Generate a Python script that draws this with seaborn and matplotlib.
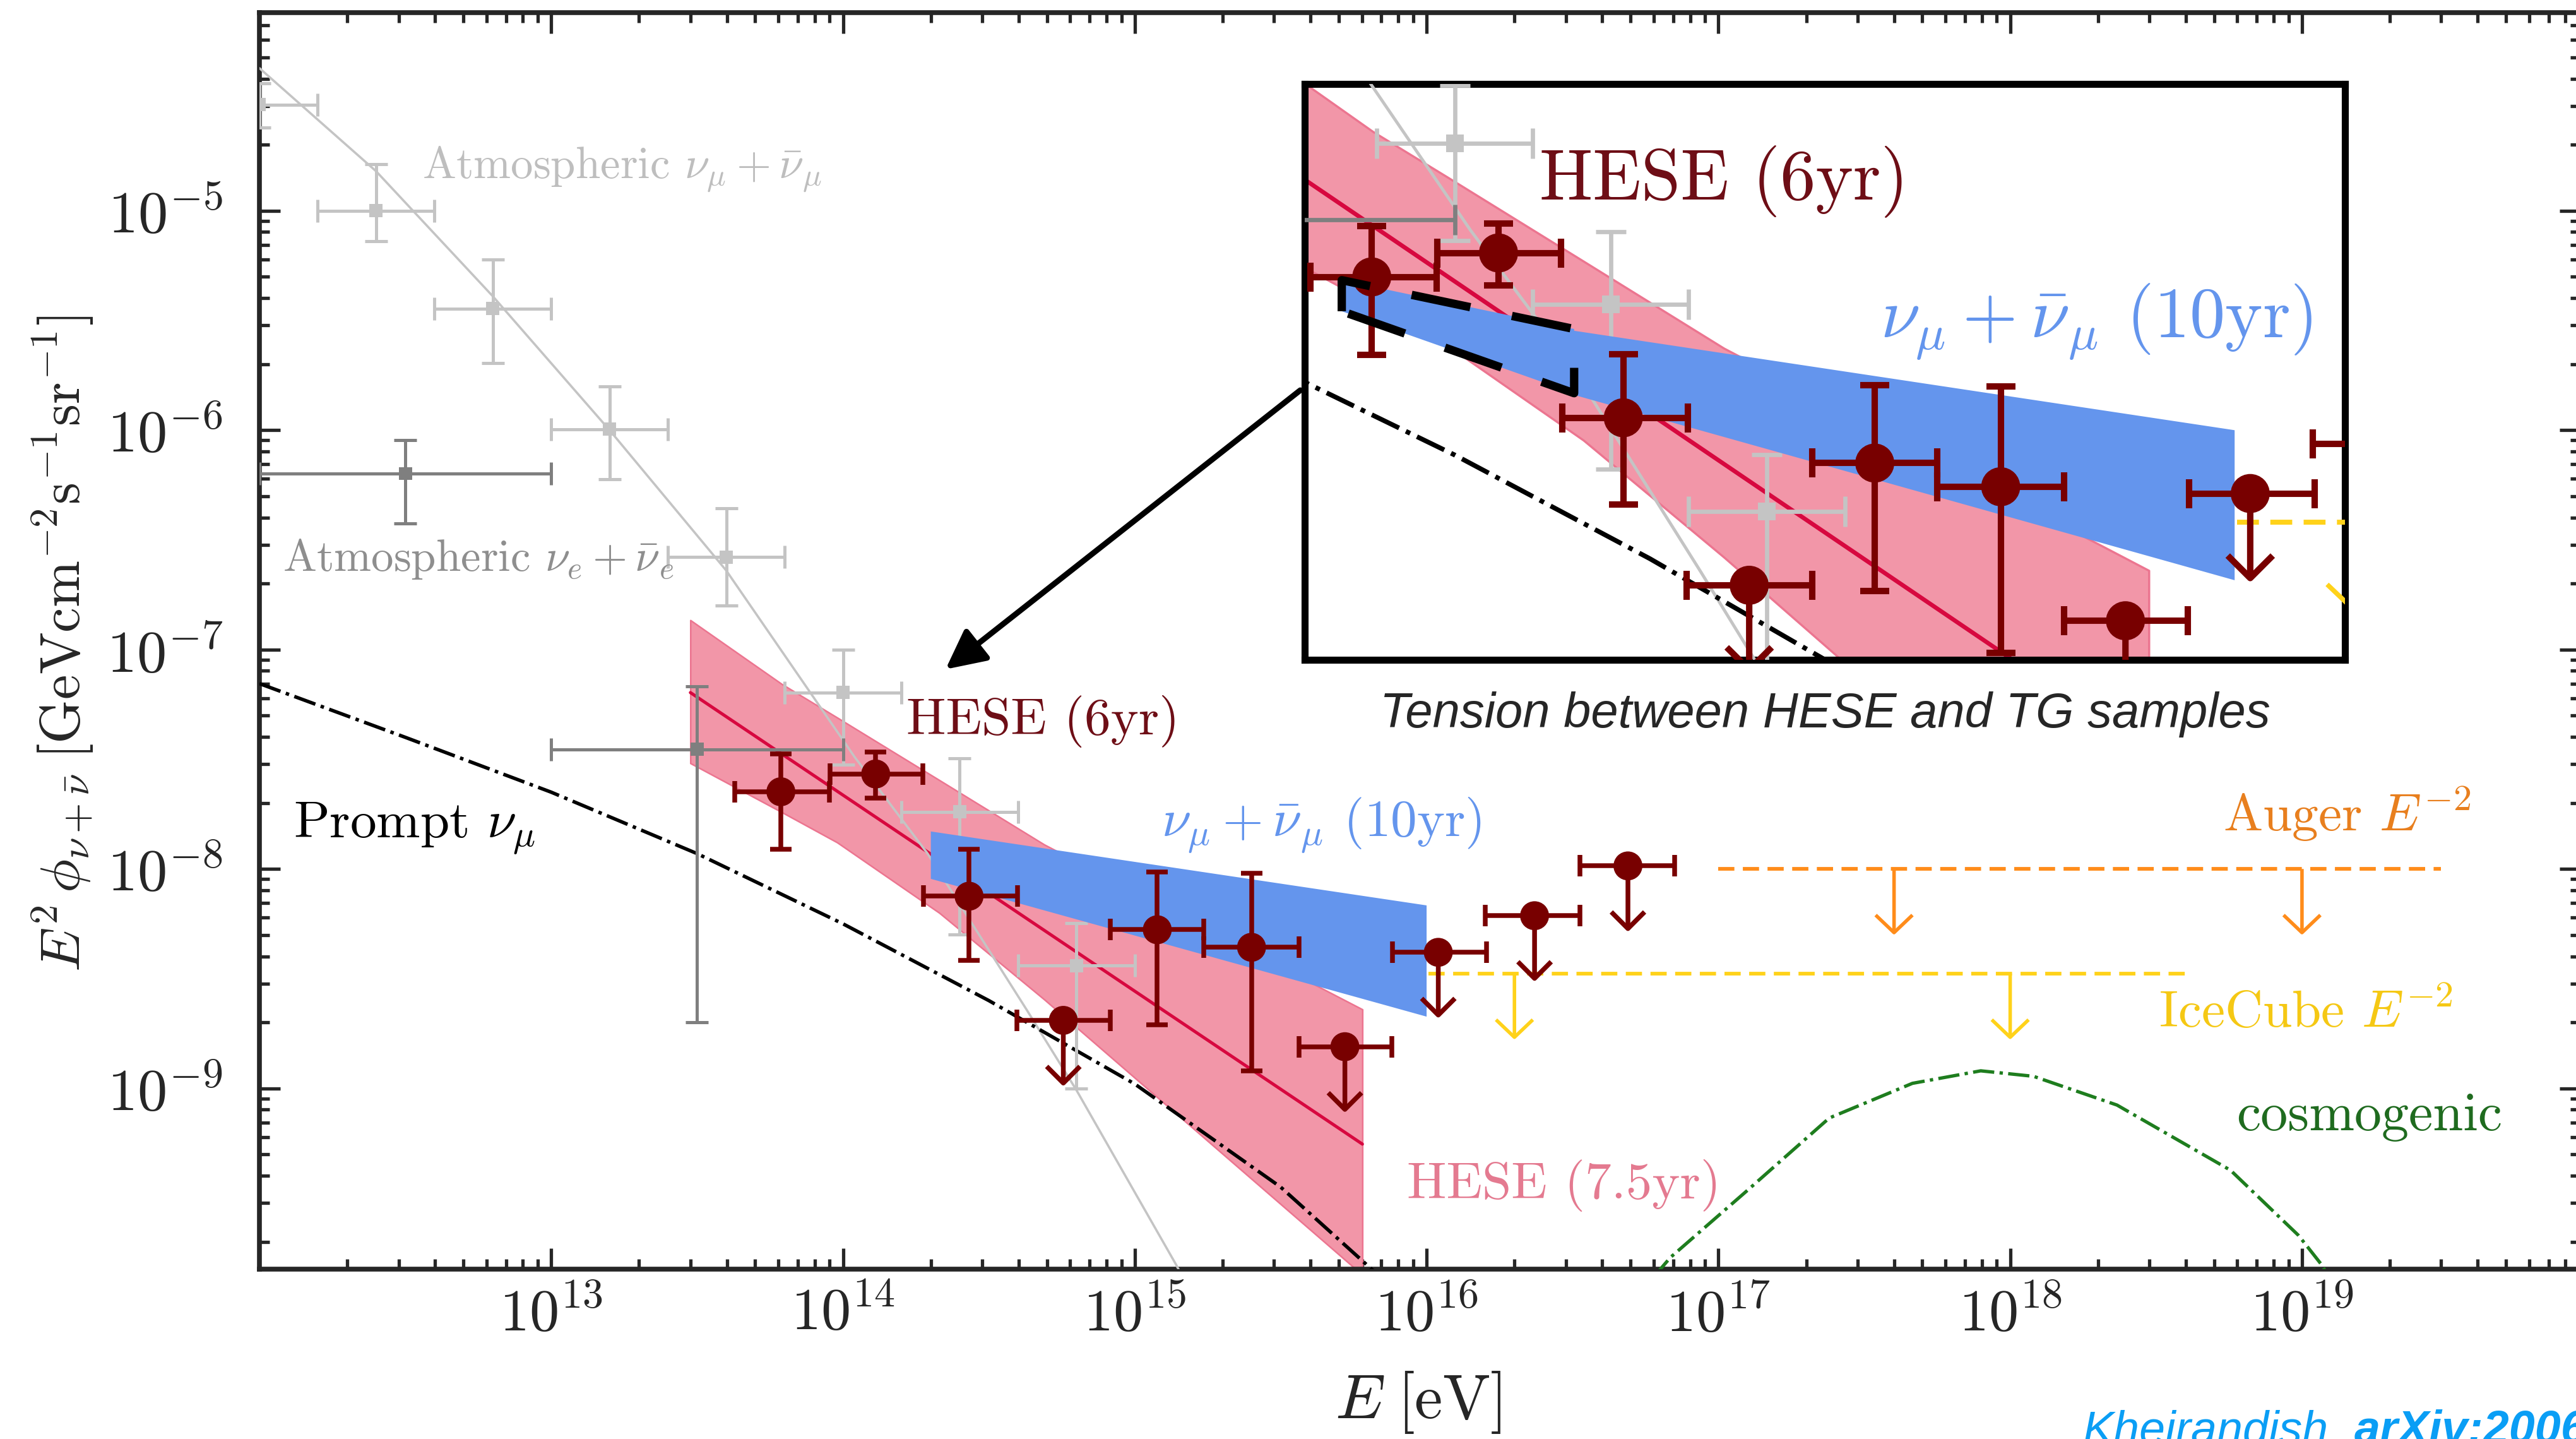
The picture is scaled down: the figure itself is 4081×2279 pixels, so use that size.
import numpy as np
import pandas as pd
import matplotlib
matplotlib.use("Agg")
import matplotlib.pyplot as plt
import seaborn as sns
from matplotlib.ticker import LogLocator, FixedLocator, FuncFormatter, NullFormatter, NullLocator
from matplotlib.patches import FancyArrowPatch

# ================= data: log10(E/eV) and log10(E^2 phi / GeV cm^-2 s^-1 sr^-1) =================
# HESE 6 yr data points
hese6_logE    = [13.787, 14.112, 14.432, 14.755, 15.077, 15.400, 15.720, 16.040, 16.370, 16.690]
hese6_logE_lo = [13.629, 13.955, 14.275, 14.595, 14.917, 15.237, 15.563, 15.883, 16.200, 16.525]
hese6_logE_hi = [13.953, 14.273, 14.598, 14.917, 15.237, 15.563, 15.880, 16.205, 16.525, 16.850]
hese6_logF    = [-7.648, -7.567, -8.124, -8.690, -8.277, -8.357, -8.810, -8.380, -8.213, -7.986]
hese6_logF_hi = [-7.476, -7.467, -7.910, np.nan, -8.014, -8.019, np.nan, np.nan, np.nan, np.nan]
hese6_logF_lo = [-7.911, -7.677, -8.417, np.nan, -8.709, -8.919, np.nan, np.nan, np.nan, np.nan]
hese6_upper   = [False, False, False, True, False, False, True, True, True, True]

# atmospheric nu_mu + nubar_mu (light grey points)
atm_mu_logE    = [12.0, 12.4, 12.8, 13.2, 13.6, 14.0, 14.4, 14.8]
atm_mu_logE_lo = [11.8, 12.2, 12.6, 13.0, 13.4, 13.8, 14.2, 14.6]
atm_mu_logE_hi = [12.2, 12.6, 13.0, 13.4, 13.8, 14.2, 14.6, 15.0]
atm_mu_logF    = [-4.516, -5.000, -5.446, -5.996, -6.578, -7.196, -7.740, -8.440]
atm_mu_logF_hi = [-4.420, -4.787, -5.222, -5.800, -6.355, -7.000, -7.495, -8.248]
atm_mu_logF_lo = [-4.620, -5.140, -5.695, -6.223, -6.800, -7.525, -8.298, -9.000]

# atmospheric nu_e + nubar_e (dark grey points)
atm_e_logE    = [12.5, 13.5]
atm_e_logE_lo = [12.0, 13.0]
atm_e_logE_hi = [13.0, 14.0]
atm_e_logF    = [-6.198, -7.454]
atm_e_logF_hi = [-6.046, -7.167]
atm_e_logF_lo = [-6.424, -8.700]

# atmospheric nu_mu model curve
atm_curve_logE = [12.0, 12.4, 12.8, 13.2, 13.6, 14.04, 14.29, 14.63, 14.80, 15.14, 15.30]
atm_curve_logF = [-4.35, -4.82, -5.39, -6.00, -6.64, -7.49, -7.93, -8.643, -9.008, -9.80, -10.20]

# prompt nu_mu
prompt_logE = [12.0, 12.5, 13.0, 13.5, 14.0, 14.5, 15.0, 15.5, 16.0]
prompt_logF = [-7.155, -7.40, -7.65, -7.93, -8.25, -8.60, -8.98, -9.45, -10.05]

# HESE 7.5 yr band and best fit
h75_band_logE = [13.477, 13.79, 13.98, 14.33, 14.69, 15.78]
h75_upper     = [-6.866, -7.157, -7.310, -7.595, -7.889, -8.640]
h75_lower     = [-7.518, -7.741, -7.879, -8.200, -8.595, -9.850]
h75_fit_logE  = [13.477, 15.78]
h75_fit_logF  = [-7.196, -9.254]

# through-going nu_mu 10 yr band
tg_logE = [14.301, 16.0]
tg_top  = [-7.829, -8.166]
tg_bot  = [-8.045, -8.673]
# extrapolated part shown only in the zoom
tg_ext_logE = [13.71, 14.306]
tg_ext_top  = [-7.659, -7.824]
tg_ext_bot  = [-7.764, -8.041]

# Auger / IceCube E^-2 limits
auger_logE = [17.0, 19.477]
auger_logF = -8.0
auger_arrow_logE = [17.602, 19.0]
ic_logE = [16.006, 18.602]
ic_logF = -8.477
ic_arrow_logE = [16.301, 18.0]

# cosmogenic
cosmo_logE = [16.70, 16.836, 17.095, 17.38, 17.665, 17.899, 18.08, 18.366, 18.755, 18.988, 19.065, 19.12]
cosmo_logF = [-9.98, -9.77, -9.47, -9.135, -8.977, -8.92, -8.945, -9.076, -9.373, -9.67, -9.80, -9.92]

UL_FACTOR = 0.5  # upper-limit arrows point down by a factor of 2

# ================= style =================
sns.set_style("ticks")
plt.rcParams.update({
    "font.family": "serif",
    "font.serif": ["cmr10"],
    "mathtext.fontset": "cm",
    "axes.unicode_minus": False,
    "axes.formatter.use_mathtext": True,
    "axes.linewidth": 5.0,
})

C_DRED = "#780000"
C_PINK = "#F296A8"
C_PINK_EDGE = "#EC7590"
C_FIT = "#D7083F"
C_LGRAY = "#C4C4C4"
C_DGRAY = "#7F7F7F"
C_BLUE = "#6495ED"
C_ORANGE = "#FF8C1A"
C_GOLD = "#FFD21A"
C_GREEN = "#1E7D1E"

W, H = 4081, 2279
fig = plt.figure(figsize=(W / 100, H / 100), dpi=100)


def fx(px):
    return px / W


def fy(py):
    return 1 - py / H


def P(a):
    return 10.0 ** np.asarray(a, dtype=float)


def arrow_down(a, x, y, color, lw, hl, hw, z):
    p = FancyArrowPatch((x, y), (x, y * UL_FACTOR),
                        arrowstyle=f"->,head_length={hl},head_width={hw}",
                        mutation_scale=1, lw=lw, color=color,
                        shrinkA=0, shrinkB=0, zorder=z, capstyle="butt")
    a.add_patch(p)


LABELS = [
    (12.559, -4.850, r"Atmospheric $\nu_\mu+\bar{\nu}_\mu$", "#BEBEBE", 51),
    (12.081, -6.640, r"Atmospheric $\nu_e+\bar{\nu}_e$", "#8E8E8E", 51),
    (12.116, -7.859, r"Prompt $\nu_\mu$", "black", 60),
    (14.217, -7.386, "HESE (6yr)", "#6E0E16", 60),
    (15.092, -7.853, r"$\nu_\mu+\bar{\nu}_\mu$ (10yr)", C_BLUE, 60),
    (15.933, -9.501, "HESE (7.5yr)", "#E47A90", 60),
    (18.729, -7.827, r"Auger $E^{-2}$", "#E87F1E", 60),
    (18.509, -8.720, r"IceCube $E^{-2}$", "#F5C814", 60),
    (18.775, -9.190, "cosmogenic", "#1F6B1F", 62),
]


def draw(a, s, lim=None):
    a.set_xscale("log")
    a.set_yscale("log")
    # HESE 7.5 yr band + fit
    a.fill_between(P(h75_band_logE), P(h75_lower), P(h75_upper),
                   facecolor=C_PINK, edgecolor=C_PINK_EDGE, linewidth=1.8 * s, zorder=1)
    sns.lineplot(x=P(h75_fit_logE), y=P(h75_fit_logF), ax=a, color=C_FIT,
                 linewidth=3.6 * s, estimator=None, sort=False, legend=False, zorder=2)
    # atmospheric model curve
    sns.lineplot(x=P(atm_curve_logE), y=P(atm_curve_logF), ax=a, color=C_LGRAY,
                 linewidth=2.6 * s, estimator=None, sort=False, legend=False, zorder=3)
    # prompt
    sns.lineplot(x=P(prompt_logE), y=P(prompt_logF), ax=a, color="black",
                 linewidth=4.0 * s, linestyle="-.", estimator=None, sort=False,
                 legend=False, zorder=3)
    # cosmogenic
    sns.lineplot(x=P(cosmo_logE), y=P(cosmo_logF), ax=a, color=C_GREEN,
                 linewidth=3.8 * s, linestyle="-.", estimator=None, sort=False,
                 legend=False, zorder=3)
    # atmospheric points
    for lE, lElo, lEhi, lF, lFlo, lFhi, col in [
        (atm_mu_logE, atm_mu_logE_lo, atm_mu_logE_hi, atm_mu_logF, atm_mu_logF_lo, atm_mu_logF_hi, C_LGRAY),
        (atm_e_logE, atm_e_logE_lo, atm_e_logE_hi, atm_e_logF, atm_e_logF_lo, atm_e_logF_hi, C_DGRAY),
    ]:
        e, f = P(lE), P(lF)
        a.errorbar(e, f, xerr=[e - P(lElo), P(lEhi) - e], yerr=[f - P(lFlo), P(lFhi) - f],
                   fmt="none", ecolor=col, elinewidth=3.6 * s, capsize=13 * s,
                   capthick=3.6 * s, zorder=3)
        sns.scatterplot(x=e, y=f, ax=a, marker="s", s=(15 * s) ** 2, color=col,
                        edgecolor="none", legend=False, zorder=3.5)
    # TG band
    a.fill_between(P(tg_logE), P(tg_bot), P(tg_top), facecolor=C_BLUE,
                   edgecolor="none", linewidth=0, zorder=4)
    # HESE 6yr points
    e, f = P(hese6_logE), P(hese6_logF)
    up = np.array(hese6_upper)
    me = ~up
    a.errorbar(e[me], f[me], xerr=[e[me] - P(hese6_logE_lo)[me], P(hese6_logE_hi)[me] - e[me]],
               yerr=[f[me] - P(hese6_logF_lo)[me], P(hese6_logF_hi)[me] - f[me]],
               fmt="none", ecolor=C_DRED, elinewidth=5.4 * s, capsize=12.5 * s,
               capthick=5.4 * s, zorder=5)
    a.errorbar(e[up], f[up], xerr=[e[up] - P(hese6_logE_lo)[up], P(hese6_logE_hi)[up] - e[up]],
               fmt="none", ecolor=C_DRED, elinewidth=5.4 * s, capsize=12.5 * s,
               capthick=5.4 * s, zorder=5)
    for xe, yf in zip(e[up], f[up]):
        arrow_down(a, xe, yf, C_DRED, 5.4 * s, 19 * s, 19 * s, 5)
    sns.scatterplot(x=e, y=f, ax=a, marker="o", s=(33 * s) ** 2, color=C_DRED,
                    edgecolor="none", legend=False, zorder=6)
    # Auger / IceCube
    sns.lineplot(x=P(auger_logE), y=P([auger_logF] * 2), ax=a, color=C_ORANGE,
                 linewidth=4.2 * s, estimator=None, sort=False, legend=False, zorder=3)
    a.lines[-1].set_dashes([4.4, 2.3])
    for xe in auger_arrow_logE:
        arrow_down(a, 10 ** xe, 10 ** auger_logF, C_ORANGE, 4.0 * s, 20 * s, 21 * s, 3)
    sns.lineplot(x=P(ic_logE), y=P([ic_logF] * 2), ax=a, color=C_GOLD,
                 linewidth=4.2 * s, estimator=None, sort=False, legend=False, zorder=3)
    a.lines[-1].set_dashes([4.4, 2.3])
    for xe in ic_arrow_logE:
        arrow_down(a, 10 ** xe, 10 ** ic_logF, C_GOLD, 4.0 * s, 20 * s, 21 * s, 3)

    # labels (data positions); in the zoom only those that fall inside it
    for lx, ly, txt, col, fs in LABELS:
        if lim is not None:
            (x0, x1), (y0, y1) = lim
            if not (x0 <= lx <= x1 and y0 <= ly <= y1):
                continue
        a.text(10 ** lx, 10 ** ly, txt, color=col, fontsize=fs * s, ha="left",
               va="baseline", clip_on=True, zorder=7)


# ================= main axes =================
ax = fig.add_axes([fx(411), fy(2010), (4088 - 411) / W, (2010 - 20) / H])
draw(ax, 1.0)
ax.set_xlim(1e12, 9e19)
ax.set_ylim(1.5e-10, 8e-5)
ax.xaxis.set_major_locator(FixedLocator(10.0 ** np.arange(13, 20)))
ax.xaxis.set_minor_locator(LogLocator(base=10, subs=np.arange(2, 10), numticks=50))
ax.yaxis.set_major_locator(LogLocator(base=10, numticks=50))
ax.yaxis.set_minor_locator(LogLocator(base=10, subs=np.arange(2, 10), numticks=50))
fmt = FuncFormatter(lambda v, p: r"$10^{%d}$" % int(round(np.log10(v))))
ax.xaxis.set_major_formatter(fmt)
ax.yaxis.set_major_formatter(fmt)
ax.xaxis.set_minor_formatter(NullFormatter())
ax.yaxis.set_minor_formatter(NullFormatter())
ax.tick_params(which="both", direction="in", top=True, right=True, width=3.8, labelsize=68)
ax.tick_params(which="major", length=24)
ax.tick_params(which="minor", length=11.5)
ax.tick_params(axis="x", which="major", pad=20)
ax.tick_params(axis="y", which="major", pad=42)
for sp in ax.spines.values():
    sp.set_linewidth(5.5)
ax.set_xlabel("")
ax.set_ylabel("")

fig.text(fx(100), fy(1019),
         r"$E^2\,\phi_{\nu+\bar{\nu}}\;[\mathrm{GeV}\mathrm{cm}^{-2}\mathrm{s}^{-1}\mathrm{sr}^{-1}]$",
         rotation=90, ha="center", va="center", fontsize=64)
fig.text(fx(2247), fy(2246), r"$E\;[\mathrm{eV}]$", ha="center", va="baseline", fontsize=72)

# ================= zoomed inset =================
IN_XLIM = (13.615, 16.283)
IN_YLIM = (-8.942, -6.996)
ax_in = fig.add_axes([fx(2067), fy(1045), (3715 - 2067) / W, (1045 - 133) / H], zorder=10)
ax_in.set_facecolor("white")
S_IN = 1.35
draw(ax_in, S_IN, lim=(IN_XLIM, IN_YLIM))
ax_in.fill_between(P(tg_ext_logE), P(tg_ext_bot), P(tg_ext_top), facecolor=C_BLUE,
                   edgecolor="none", linewidth=0, zorder=4)
poly_x = P([tg_ext_logE[0], tg_ext_logE[0], tg_ext_logE[1], tg_ext_logE[1], tg_ext_logE[0]])
poly_y = P([tg_ext_bot[0], tg_ext_top[0], tg_ext_top[1], tg_ext_bot[1], tg_ext_bot[0]])
ax_in.plot(poly_x, poly_y, color="black", lw=9.5, dashes=[7.2, 5.1], zorder=8,
           solid_joinstyle="miter", dash_capstyle="butt")
ax_in.set_xlim(10 ** IN_XLIM[0], 10 ** IN_XLIM[1])
ax_in.set_ylim(10 ** IN_YLIM[0], 10 ** IN_YLIM[1])
for axis in (ax_in.xaxis, ax_in.yaxis):
    axis.set_major_locator(NullLocator())
    axis.set_minor_locator(NullLocator())
ax_in.set_xlabel("")
ax_in.set_ylabel("")
for sp in ax_in.spines.values():
    sp.set_linewidth(8.0)
    sp.set_color("black")

fig.text(fx(2891), fy(1152), "Tension between HESE and TG samples", ha="center",
         va="baseline", fontsize=56, style="italic", family="Liberation Sans")

# arrow from inset to the region
arr = FancyArrowPatch((fx(2060), fy(618)), (fx(1498), fy(1060)), transform=fig.transFigure,
                      arrowstyle="-|>,head_length=38,head_width=19", mutation_scale=1,
                      lw=6.5, color="black", shrinkA=0, shrinkB=0, zorder=20)
fig.add_artist(arr)

# credit line (partly outside the canvas, as in the original)
fig.text(fx(3300), fy(2286), "Kheirandish,", ha="left", va="baseline", fontsize=53,
         style="italic", family="Liberation Sans", color="#0A9EF5")
fig.text(fx(3730), fy(2286), "arXiv:2006", ha="left", va="baseline", fontsize=53,
         style="italic", weight="bold", family="Liberation Sans", color="#0A9EF5")

fig.savefig("out.png", dpi=100, facecolor="white")
